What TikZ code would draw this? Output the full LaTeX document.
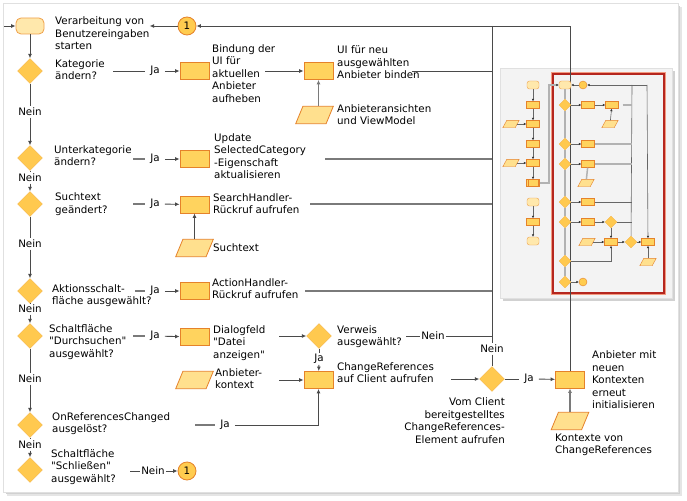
\documentclass[tikz,border=0pt]{standalone}
\usepackage{fontspec}
\setmainfont{DejaVu Sans}[Ligatures=TeXOff]
\usetikzlibrary{shapes.geometric,arrows.meta}
\setlength{\tabcolsep}{0pt}
\definecolor{diafill}{HTML}{FFC94F}
\definecolor{diaedge}{HTML}{F5B54A}
\definecolor{boxfill}{HTML}{FFD35E}
\definecolor{boxedge}{HTML}{E5822A}
\definecolor{iofill}{HTML}{FFE08E}
\definecolor{termfill}{HTML}{FFE8AC}
\definecolor{termedge}{HTML}{EFA04A}
\definecolor{circfill}{HTML}{FFCC4F}
\definecolor{linec}{HTML}{4A4A4A}
\definecolor{graylinec}{HTML}{7A7A7A}
\definecolor{panelgray}{HTML}{F3F3F3}
\definecolor{framered}{HTML}{B5261E}
\definecolor{framesalmon}{HTML}{F29A80}
\begin{document}
\begin{tikzpicture}[x=1pt, y=-1pt,
            font=\fontsize{10.3}{12.5}\selectfont,
            line/.style={draw=linec, line width=0.9pt},
            gline/.style={draw=graylinec, line width=1.1pt},
            arr/.style={line, -{Latex[length=4.5pt,width=4pt]}},
            txt/.style={anchor=west, inner sep=0pt},
            ja/.style={inner xsep=5pt, inner ysep=1pt},
            nein/.style={inner xsep=1pt, inner ysep=1.5pt},
            dia/.style={diamond, fill=diafill, draw=diaedge, minimum width=25pt, minimum height=25pt, inner sep=0pt},
            box/.style={rectangle, fill=boxfill, draw=boxedge, line width=0.8pt, minimum width=29pt, minimum height=17pt, inner sep=0pt},
            io/.style={rectangle, minimum width=30pt, minimum height=17pt, inner sep=0pt,
                append after command={\pgfextra{\fill[iofill, draw=boxedge, line width=0.8pt]
                    ([xshift=-3.6pt]\tikzlastnode.south west) -- ([xshift=-3.6pt]\tikzlastnode.south east)
                    -- ([xshift=3.6pt]\tikzlastnode.north east) -- ([xshift=3.6pt]\tikzlastnode.north west) -- cycle;}}},
            term/.style={rectangle, rounded corners=5pt, fill=termfill, draw=termedge, line width=0.8pt, minimum width=28pt, minimum height=16pt, inner sep=0pt},
            conn/.style={circle, fill=circfill, draw=boxedge, line width=0.8pt, minimum size=18pt, inner sep=0pt},
            mdia/.style={diamond, fill=diafill, draw=diaedge, line width=0.4pt, minimum size=12pt, inner sep=0pt},
            mbox/.style={rectangle, fill=boxfill, draw=boxedge, line width=0.4pt, minimum width=13pt, minimum height=7pt, inner sep=0pt},
            mio/.style={rectangle, minimum width=12pt, minimum height=7pt, inner sep=0pt,
                append after command={\pgfextra{\fill[iofill, draw=boxedge, line width=0.4pt]
                    ([xshift=-2pt]\tikzlastnode.south west) -- ([xshift=-2pt]\tikzlastnode.south east)
                    -- ([xshift=2pt]\tikzlastnode.north east) -- ([xshift=2pt]\tikzlastnode.north west) -- cycle;}}},
            mterm/.style={rectangle, rounded corners=2.5pt, fill=termfill, draw=termedge, line width=0.4pt, minimum width=12pt, minimum height=8pt, inner sep=0pt},
            mcirc/.style={circle, fill=circfill, draw=boxedge, line width=0.4pt, minimum size=8pt, inner sep=0pt},
            mline/.style={draw=black!30, line width=1.5pt},
            mthin/.style={draw=black!60, line width=0.6pt},
            marr/.style={-{Latex[length=2.5pt,width=2.5pt,color=black!80]}},
        ]
            \useasboundingbox (0,0) rectangle (687,500);
            % frame with shadow
            \fill[black!10] (7,7) rectangle (682,496);
            \fill[black!18] (6,6) rectangle (680,494);
            \draw[draw=black!12, fill=white] (3,3) rectangle (678,492);

            % thumbnail panel
            \fill[black!18] (503,71) rectangle (675,301);
            \draw[draw=black!12, fill=panelgray] (500,68) rectangle (672,298);
            \draw[framesalmon, line width=0.6pt] (551.6,72.6) rectangle (665.4,294.4);
            \draw[framered, line width=1.6pt] (553,74) rectangle (664,293);

            % main flow
            \coordinate(w0) at (4,26);
            \coordinate(tm) at (492,26);
            \coordinate(tr) at (570,26);
            \node(start) at (30,26) [term] {};
            \node(tstart) at (55,35) [txt] {\begin{tabular}{l}Verarbeitung von\\Benutzereingaben\\starten\end{tabular}};
            \node(c1) at (187,26) [conn] {1};

            \node(d1) at (30,71) [dia] {};
            \node(q1) at (55,71) [txt] {\begin{tabular}{l}Kategorie\\ändern?\end{tabular}};
            \node(ja1) at (155,71) [ja] {Ja};
            \node(b1) at (194.5,71) [box] {};
            \node(t1) at (212,75) [txt] {\begin{tabular}{l}Bindung der\\UI für\\aktuellen\\Anbieter\\aufheben\end{tabular}};
            \node(b2) at (318.5,71) [box] {};
            \node(t2) at (337,64) [txt] {\begin{tabular}{l}UI für neu\\ausgewählten\\Anbieter binden\end{tabular}};
            \node(p1) at (314.5,115) [io] {};
            \node(tp1) at (337,116) [txt] {\begin{tabular}{l}Anbieteransichten\\und ViewModel\end{tabular}};
            \node(n1) at (30,112) [nein] {Nein};

            \node(d2) at (30,158) [dia] {};
            \node(q2) at (54,157) [txt] {\begin{tabular}{l}Unterkategorie\\ändern?\end{tabular}};
            \node(ja2) at (155,159) [ja] {Ja};
            \node(b3) at (194.5,159) [box] {};
            \node(t3) at (214,157.5) [txt] {\begin{tabular}{l}Update\\SelectedCategory\\-Eigenschaft\\aktualisieren\end{tabular}};
            \node(n2) at (30,178) [nein] {Nein};

            \node(d3) at (30,204) [dia] {};
            \node(q3) at (55,204.5) [txt] {\begin{tabular}{l}Suchtext\\geändert?\end{tabular}};
            \node(ja3) at (155,204) [ja] {Ja};
            \node(b4) at (194.5,204.5) [box] {};
            \node(t4) at (213,205) [txt] {\begin{tabular}{l}SearchHandler-\\Rückruf aufrufen\end{tabular}};
            \node(p2) at (194.5,248) [io] {};
            \node(tp2) at (213,248) [txt] {Suchtext};
            \node(n3) at (30,244) [nein] {Nein};

            \node(d4) at (30,291) [dia] {};
            \node(q4) at (52,296) [txt] {\begin{tabular}{l}Aktionsschalt-\\fläche ausgewählt?\end{tabular}};
            \node(ja4) at (155,291) [ja] {Ja};
            \node(b5) at (194.5,291) [box] {};
            \node(t5) at (212,290) [txt] {\begin{tabular}{l}ActionHandler-\\Rückruf aufrufen\end{tabular}};
            \node(n4) at (30,309) [nein] {Nein};

            \node(d5) at (30,336) [dia] {};
            \node(q5) at (49,342) [txt] {\begin{tabular}{l}Schaltfläche\\"Durchsuchen"\\ausgewählt?\end{tabular}};
            \node(ja5) at (155,336) [ja] {Ja};
            \node(b6) at (194.5,337) [box] {};
            \node(t6) at (213,343) [txt] {\begin{tabular}{l}Dialogfeld\\"Datei\\anzeigen"\end{tabular}};
            \node(d6) at (319,336) [dia] {};
            \node(td6) at (337,337) [txt] {\begin{tabular}{l}Verweis\\ausgewählt?\end{tabular}};
            \node(nd6) at (433,336) [nein] {Nein};
            \node(ja6) at (319,359) [ja] {Ja};
            \node(b7) at (318.5,380) [box] {};
            \node(t7) at (337,374) [txt] {\begin{tabular}{l}ChangeReferences\\auf Client aufrufen\end{tabular}};
            \node(p3) at (194.5,380) [io] {};
            \node(tp3) at (215,380) [txt] {\begin{tabular}{l}Anbieter-\\kontext\end{tabular}};
            \node(n5) at (30,379) [nein] {Nein};

            \node(d7) at (30,425) [dia] {};
            \node(q7) at (52,424) [txt] {\begin{tabular}{l}OnReferencesChanged\\ausgelöst?\end{tabular}};
            \node(ja7) at (225,425) [ja] {Ja};
            \node(n6) at (30,445) [nein] {Nein};

            \node(d9) at (30,470) [dia] {};
            \node(q9) at (51,467) [txt] {\begin{tabular}{l}Schaltfläche\\"Schließen"\\ausgewählt?\end{tabular}};
            \node(nd9) at (153,471) [nein] {Nein};
            \node(c2) at (187,471) [conn] {1};

            \node(nv) at (492,349) [nein] {Nein};
            \node(d8) at (492,379) [dia] {};
            \node(td8) at (505,422) [txt, anchor=east] {\begin{tabular}{r}Vom Client\\bereitgestelltes\\ChangeReferences-\\Element aufrufen\end{tabular}};
            \node(ja8) at (529,379) [ja] {Ja};
            \node(b8) at (570,379.5) [box] {};
            \node(t8) at (592,381) [txt] {\begin{tabular}{l}Anbieter mit\\neuen\\Kontexten\\erneut\\initialisieren\end{tabular}};
            \node(p4) at (570,421) [io] {};
            \node(tp4) at (555,445) [txt] {\begin{tabular}{l}Kontexte von\\ChangeReferences\end{tabular}};

            % free ends of connectors
            \coordinate(s1) at (113,71);
            \coordinate(s2) at (133,159);
            \coordinate(s3) at (133,204);
            \coordinate(s4) at (135,291);
            \coordinate(s5) at (133,336);
            \coordinate(s7) at (195,425);
            \coordinate(s9) at (130,471);
            \coordinate(a1) at (265,71);
            \coordinate(a6) at (279,336);
            \coordinate(a7) at (406,336);
            \coordinate(a8) at (279,380);
            \coordinate(a9) at (451,379);
            \coordinate(e2) at (412,71);
            \coordinate(e3) at (325,159);
            \coordinate(e4) at (310,204);
            \coordinate(e5) at (305,291);

            \draw[arr] (w0) -- (start);
            \draw[arr] (start) -- (d1);
            \draw[arr] (tr) -- (c1);
            \draw[arr] (c1) -- (tstart.east |- c1);
            \draw[line] (tm) -- (nv);
            \draw[line] (nv) -- (d8);
            \draw[line] (b8) -- (tr);

            \draw[line] (d1) -- (n1);
            \draw[arr] (n1) -- (d2);
            \draw[line] (d2) -- (n2);
            \draw[arr] (n2) -- (d3);
            \draw[line] (d3) -- (n3);
            \draw[arr] (n3) -- (d4);
            \draw[line] (d4) -- (n4);
            \draw[arr] (n4) -- (d5);
            \draw[line] (d5) -- (n5);
            \draw[arr] (n5) -- (d7);
            \draw[line] (d7) -- (n6);
            \draw[arr] (n6) -- (d9);

            \draw[line] (s1) -- (ja1);
            \draw[arr] (ja1) -- (b1);
            \draw[gline] (s2) -- (ja2);
            \draw[arr] (ja2) -- (b3);
            \draw[gline] (s3) -- (ja3);
            \draw[arr] (ja3) -- (b4);
            \draw[gline] (s4) -- (ja4);
            \draw[arr] (ja4) -- (b5);
            \draw[gline] (s5) -- (ja5);
            \draw[arr] (ja5) -- (b6);
            \draw[line] (s9) -- (nd9);
            \draw[arr] (nd9) -- (c2);

            \draw[arr] (a1) -- (b2);
            \draw[arr, draw=graylinec, line width=1.1pt] (p1.north -| b2) -- (b2);
            \draw[arr] (p2) -- (b4);
            \draw[line] (e2) -- (tm |- e2);
            \draw[gline] (e3) -- (tm |- e3);
            \draw[gline] (e4) -- (tm |- e4);
            \draw[gline] (e5) -- (tm |- e5);

            \draw[arr] (a6) -- (d6);
            \draw[line] (a7) -- (nd6);
            \draw[line] (nd6) -- (tm |- nd6);
            \draw[line] (d6) -- (ja6);
            \draw[arr] (ja6) -- (b7);
            \draw[arr] (a8) -- (b7);
            \draw[gline] (s7) -- (ja7);
            \draw[arr] (ja7) -| (b7);
            \draw[arr] (a9) -- (d8);
            \draw[line] (d8) -- (ja8);
            \draw[arr] (ja8) -- (b8);
            \draw[arr, draw=graylinec, line width=1.1pt] (p4) -- (b8);

            % thumbnail, left column
            \node(ml1) at (533,85) [mterm] {};
            \node(ml2) at (533,105) [mbox] {};
            \node(ml3) at (533,124) [mbox] {};
            \node(ml4) at (533,144) [mbox] {};
            \node(ml5) at (533,163) [mbox] {};
            \node(ml6) at (533,183) [mbox] {};
            \draw[boxedge, line width=0.4pt] ([xshift=2pt]ml6.north west) -- ([xshift=2pt]ml6.south west);
            \draw[boxedge, line width=0.4pt] ([xshift=-2pt]ml6.north east) -- ([xshift=-2pt]ml6.south east);
            \node(mli1) at (511,124) [mio] {};
            \node(mli2) at (511,163) [mio] {};
            \node(ml7) at (533,202) [mterm] {};
            \node(ml8) at (533,222) [mbox] {};
            \node(ml9) at (533,241) [mterm] {};
            \foreach \a/\b in {ml1/ml2, ml2/ml3, ml3/ml4, ml4/ml5, ml5/ml6, mli1/ml3, mli2/ml5, ml7/ml8, ml8/ml9}
                \draw[mthin, marr] (\a) -- (\b);

            % thumbnail, framed part
            \coordinate(mk) at (549,85);
            \coordinate(mr1) at (632,85);
            \coordinate(mr2) at (647,85);
            \node(mt) at (565,85) [mterm] {};
            \node(mc1) at (583,85) [mcirc] {};
            \node(md1) at (565,105) [mdia] {};
            \node(md2) at (565,144) [mdia] {};
            \node(md3) at (565,164) [mdia] {};
            \node(md4) at (565,202) [mdia] {};
            \node(md5) at (565,222) [mdia] {};
            \node(md6) at (565,261) [mdia] {};
            \node(md7) at (565,282) [mdia] {};
            \node(mb1) at (588,105) [mbox] {};
            \node(mb2) at (612,105) [mbox] {};
            \node(mb3) at (588,144) [mbox] {};
            \node(mb4) at (588,164) [mbox] {};
            \node(mb5) at (588,202) [mbox] {};
            \node(mb6) at (588,222) [mbox] {};
            \node(mb7) at (611,242) [mbox] {};
            \node(mb8) at (648,242) [mbox] {};
            \node(md8) at (611,222) [mdia] {};
            \node(md9) at (631,242) [mdia] {};
            \node(mi1) at (610,124) [mio] {};
            \node(mi2) at (586,183) [mio] {};
            \node(mi3) at (587,242) [mio] {};
            \node(mi4) at (648,262) [mio] {};
            \node(mc2) at (583,282) [mcirc] {};

            \draw[mline, marr] (ml6.east) -| (mk) -- (mt);
            \foreach \a/\b in {mt/md1, md1/md2, md2/md3, md3/md4, md4/md5, md5/md6, md6/md7}
                \draw[mline] (\a) -- (\b);
            \foreach \a/\b in {md1/mb1, mb1/mb2, md2/mb3, md3/mb4, md4/mb5, md5/mb6, mb6/md8, mi3/mb7, mb7/md9, md9/mb8, md7/mc2, mc1/mt}
                \draw[mthin, marr] (\a) -- (\b);
            \draw[mthin, marr] (mi1) -- (mb2);
            \draw[mline] (mi2) -- (mb4);
            \draw[mthin, marr] (md8) -- (mb7);
            \draw[mthin, marr] (mi4) -- (mb8);
            \draw[mthin, marr] (md6) -| (mb7);
            \draw[mthin, marr] (mr2) -- (mc1);
            \draw[mthin] (mr1) -- (md9);
            \draw[mthin, marr] (mr2) -- (mb8);
            \draw[mline] ([xshift=4pt]mb2.east) -- (mr1 |- mb2);
            \draw[mline] (mb3) -- (mr1 |- mb3);
            \draw[mline] (mb4) -- (mr1 |- mb4);
            \draw[mthin] (mb5) -- (mr1 |- mb5);
            \draw[mthin] (md8) -- (mr1 |- md8);
        \end{tikzpicture}
\end{document}
